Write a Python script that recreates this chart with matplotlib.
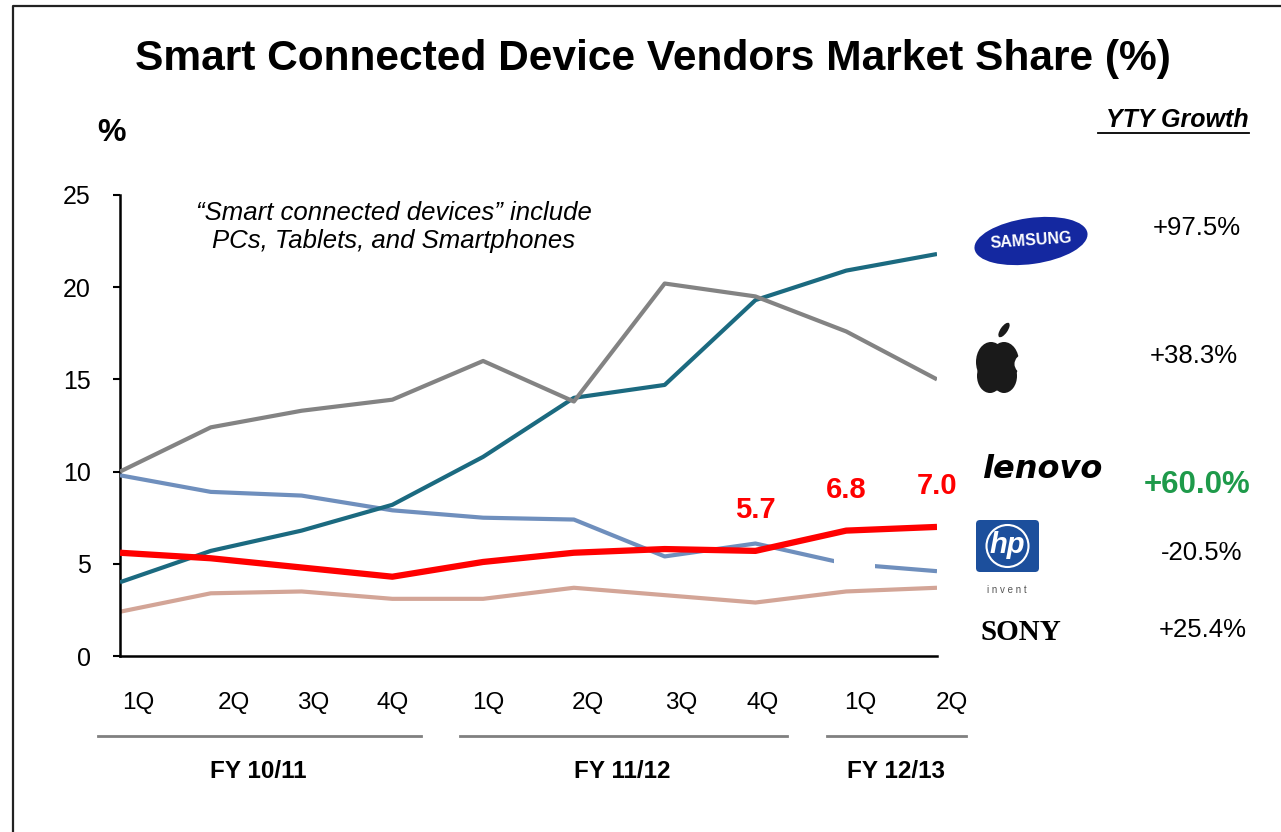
import matplotlib
matplotlib.use("Agg")
import matplotlib.pyplot as plt
from matplotlib.patches import Ellipse, Circle, FancyBboxPatch, Rectangle

plt.rcParams['font.family'] = ['Liberation Sans', 'DejaVu Sans']

# ---- data ----
quarters = ["1Q", "2Q", "3Q", "4Q", "1Q", "2Q", "3Q", "4Q", "1Q", "2Q"]
fiscal_years = ["FY 10/11", "FY 11/12", "FY 12/13"]
samsung = [4.0, 5.7, 6.8, 8.2, 10.8, 14.0, 14.7, 19.3, 20.9, 21.8]
apple = [10.0, 12.4, 13.3, 13.9, 16.0, 13.8, 20.2, 19.5, 17.6, 15.0]
hp = [9.8, 8.9, 8.7, 7.9, 7.5, 7.4, 5.4, 6.1, 5.0, 4.6]
lenovo = [5.6, 5.3, 4.8, 4.3, 5.1, 5.6, 5.8, 5.7, 6.8, 7.0]
sony = [2.4, 3.4, 3.5, 3.1, 3.1, 3.7, 3.3, 2.9, 3.5, 3.7]
lenovo_labels_idx = [7, 8, 9]
growth = ["+97.5%", "+38.3%", "+60.0%", "-20.5%", "+25.4%"]
yticks = [0, 5, 10, 15, 20, 25]

W, H = 1281, 832
fig = plt.figure(figsize=(W / 100, H / 100), dpi=100)
fig.patch.set_facecolor("white")

# overlay axes in pixel coordinates for decorations
ov = fig.add_axes([0, 0, 1, 1], zorder=0)
ov.set_xlim(0, W)
ov.set_ylim(H, 0)
ov.axis("off")

# frame
ov.plot([13, 13, W + 5], [H + 5, 6, 6], color="#222222", lw=1.6, solid_capstyle="butt")

# title
ov.text(653, 59, "Smart Connected Device Vendors Market Share (%)", ha="center", va="center",
        fontsize=30.6, fontweight="bold")
ov.text(112, 133, "%", ha="center", va="center", fontsize=23, fontweight="bold")
ov.text(1249, 120, "YTY Growth", ha="right", va="center", fontsize=18,
        fontweight="bold", fontstyle="italic")
ov.plot([1098, 1249], [133, 133], color="black", lw=1.3)

# main axes
x0, x1, ytop, ybot = 120, 937, 195, 656
ax = fig.add_axes([x0 / W, 1 - ybot / H, (x1 - x0) / W, (ybot - ytop) / H], zorder=2)
ax.patch.set_alpha(0)
xs = list(range(len(quarters)))
ax.plot(xs, sony, color="#d3a597", lw=3, solid_capstyle="butt", zorder=2)
ax.plot(xs, hp, color="#6f8fbd", lw=3, solid_capstyle="butt", zorder=3)
ax.add_patch(Rectangle((7.86, 4.4), 0.46, 1.1, facecolor="white", edgecolor="none", zorder=3.5))
ax.plot(xs, samsung, color="#1b6a80", lw=3, solid_capstyle="butt", zorder=4)
ax.plot(xs, apple, color="#838383", lw=3, solid_capstyle="butt", zorder=4)
ax.plot(xs, lenovo, color="#ff0000", lw=4.5, solid_capstyle="butt", zorder=5)
for i in lenovo_labels_idx:
    ax.annotate(f"{lenovo[i]:.1f}", (xs[i], lenovo[i]), xytext=(0, 29.5), textcoords="offset points",
                ha="center", va="center", fontsize=21, fontweight="bold", color="#ff0000",
                annotation_clip=False)
ax.set_xlim(0, 9)
ax.set_ylim(0, 25)
ax.set_yticks(yticks)
ax.set_yticklabels([str(v) for v in yticks], fontsize=18)
ax.set_xticks([])
ax.tick_params(axis="y", direction="out", length=5, width=1.5, pad=16)
for s in ["top", "right"]:
    ax.spines[s].set_visible(False)
for s in ["left", "bottom"]:
    ax.spines[s].set_linewidth(1.8)

ov.text(394, 227, "\u201cSmart connected devices\u201d include\nPCs, Tablets, and Smartphones",
        ha="center", va="center", fontsize=18.5, fontstyle="italic", linespacing=1.2)

# quarter labels and fiscal year groups
q_px = [138, 234, 313, 393, 488, 588, 681, 763, 860, 952]
for q, px in zip(quarters, q_px):
    ov.text(px, 703, q, ha="center", va="center", fontsize=17.5)
segs = [(98, 421), (460, 787), (827, 966)]
fy_px = [258, 622, 896]
for (a, b), fy, px in zip(segs, fiscal_years, fy_px):
    ov.plot([a, b], [736, 736], color="#808080", lw=2)
    ov.text(px, 772, fy, ha="center", va="center", fontsize=17.5, fontweight="bold")

# logos (approximations)
ov.add_patch(Ellipse((1031, 241), 114, 46, angle=-8, facecolor="#1428a0", edgecolor="none"))
ov.text(1031, 241, "SAMSUNG", ha="center", va="center", fontsize=11.5, fontweight="bold",
        color="white", rotation=4)
# apple
ov.add_patch(Ellipse((991, 362), 30, 40, facecolor="#1a1a1a", edgecolor="none"))
ov.add_patch(Ellipse((1004, 362), 30, 40, facecolor="#1a1a1a", edgecolor="none"))
ov.add_patch(Ellipse((990, 376), 26, 34, facecolor="#1a1a1a", edgecolor="none"))
ov.add_patch(Ellipse((1004, 376), 26, 34, facecolor="#1a1a1a", edgecolor="none"))
ov.add_patch(Circle((1024, 364), 9.5, facecolor="white", edgecolor="none"))
ov.add_patch(Ellipse((997, 394), 8, 5, facecolor="white", edgecolor="none"))
ov.add_patch(Ellipse((1004, 330), 7, 17, angle=35, facecolor="#1a1a1a", edgecolor="none"))
# lenovo
ov.text(1042, 470, "lenovo", ha="center", va="center", fontsize=23, fontweight="heavy",
        fontstyle="italic", family="DejaVu Sans")
# hp
ov.add_patch(FancyBboxPatch((977, 521), 61, 50, boxstyle="round,pad=1,rounding_size=4",
                            facecolor="#1c4f9c", edgecolor="none"))
ov.add_patch(Circle((1007.5, 546), 21, facecolor="none", edgecolor="white", lw=1.5))
ov.text(1007.5, 545, "hp", ha="center", va="center", fontsize=21, fontstyle="italic",
        color="white", fontweight="bold")
ov.text(1007, 590, "i n v e n t", ha="center", va="center", fontsize=7, color="#555555")
# sony
ov.text(1021, 632, "SONY", ha="center", va="center", fontsize=21, fontweight="bold",
        family="Liberation Serif")

# growth values
g_pos = [(1197, 228), (1194, 356), (1197, 485), (1202, 553), (1203, 630)]
for gtxt, (px, py) in zip(growth, g_pos):
    if gtxt == "+60.0%":
        ov.text(px, py, gtxt, ha="center", va="center", fontsize=22.5, fontweight="bold", color="#1e9a4a")
    else:
        ov.text(px, py, gtxt, ha="center", va="center", fontsize=18.5)

fig.savefig("out.png", dpi=100, facecolor="white")
